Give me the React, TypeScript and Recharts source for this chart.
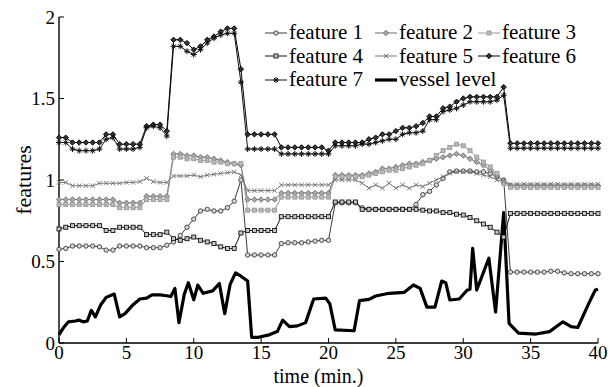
import { LineChart, Line, XAxis, YAxis, Legend } from "recharts";

// time axis (min.), one sample every half minute
const TIME = [
  0, 0.5, 1, 1.5, 2, 2.5, 3, 3.5, 4, 4.5,
  5, 5.5, 6, 6.5, 7, 7.5, 8, 8.5, 9, 9.5,
  10, 10.5, 11, 11.5, 12, 12.5, 13, 13.5, 14, 14.5,
  15, 15.5, 16, 16.5, 17, 17.5, 18, 18.5, 19, 19.5,
  20, 20.5, 21, 21.5, 22, 22.5, 23, 23.5, 24, 24.5,
  25, 25.5, 26, 26.5, 27, 27.5, 28, 28.5, 29, 29.5,
  30, 30.5, 31, 31.5, 32, 32.5, 33, 33.5, 34, 34.5,
  35, 35.5, 36, 36.5, 37, 37.5, 38, 38.5, 39, 39.5,
  40,
];

const F1 = [
  0.575, 0.58, 0.595, 0.595, 0.595, 0.595, 0.59, 0.57, 0.57, 0.595,
  0.595, 0.595, 0.595, 0.585, 0.585, 0.585, 0.6, 0.62, 0.66, 0.71,
  0.76, 0.81, 0.82, 0.81, 0.81, 0.83, 0.87, 1.0, 0.54, 0.54,
  0.54, 0.54, 0.54, 0.61, 0.615, 0.615, 0.615, 0.62, 0.625, 0.63,
  0.63, 0.86, 0.86, 0.86, 0.86, 0.83, 0.82, 0.82, 0.82, 0.82,
  0.82, 0.82, 0.82, 0.85, 0.91, 0.93, 0.97, 1.01, 1.05, 1.055,
  1.055, 1.055, 1.05, 1.05, 1.04, 1.02, 1.0, 0.435, 0.435, 0.435,
  0.435, 0.435, 0.435, 0.44, 0.44, 0.43, 0.425, 0.425, 0.425, 0.425,
  0.425,
];

const F2 = [
  0.88, 0.88, 0.88, 0.88, 0.88, 0.88, 0.88, 0.88, 0.88, 0.86,
  0.86, 0.86, 0.86, 0.9, 0.9, 0.9, 0.9, 1.16, 1.16, 1.15,
  1.15, 1.14, 1.14, 1.13, 1.12, 1.11, 1.1, 1.09, 0.88, 0.88,
  0.88, 0.88, 0.88, 0.92, 0.92, 0.92, 0.92, 0.92, 0.92, 0.92,
  0.92, 1.03, 1.03, 1.03, 1.03, 1.03, 1.04, 1.05, 1.07, 1.07,
  1.08, 1.09, 1.1, 1.1, 1.11, 1.12, 1.13, 1.14, 1.15, 1.16,
  1.15, 1.13, 1.11, 1.09, 1.06, 1.03, 0.99, 0.965, 0.965, 0.965,
  0.965, 0.965, 0.965, 0.965, 0.965, 0.965, 0.965, 0.965, 0.965, 0.965,
  0.965,
];

const F3 = [
  0.85, 0.85, 0.85, 0.85, 0.85, 0.85, 0.85, 0.85, 0.85, 0.83,
  0.83, 0.83, 0.83, 0.88, 0.88, 0.88, 0.88, 1.14, 1.14, 1.13,
  1.13, 1.12, 1.12, 1.11, 1.11, 1.1, 1.1, 1.1, 0.815, 0.815,
  0.815, 0.815, 0.815, 0.895, 0.895, 0.895, 0.895, 0.895, 0.895, 0.895,
  0.895, 1.02, 1.02, 1.02, 1.02, 1.02, 1.03, 1.04, 1.05, 1.06,
  1.06, 1.07, 1.08, 1.09, 1.1, 1.12, 1.15, 1.18, 1.2, 1.22,
  1.21, 1.18, 1.14, 1.11, 1.08, 1.04, 0.98, 0.955, 0.955, 0.955,
  0.955, 0.955, 0.955, 0.955, 0.955, 0.955, 0.955, 0.955, 0.955, 0.955,
  0.955,
];

const F4 = [
  0.7, 0.71, 0.72, 0.72, 0.72, 0.72, 0.72, 0.69, 0.69, 0.71,
  0.71, 0.71, 0.71, 0.665, 0.665, 0.665, 0.68, 0.64, 0.63, 0.64,
  0.65, 0.63, 0.62, 0.61, 0.59, 0.58, 0.58, 0.675, 0.69, 0.69,
  0.69, 0.69, 0.69, 0.775, 0.775, 0.775, 0.775, 0.775, 0.775, 0.775,
  0.775, 0.865, 0.865, 0.865, 0.865, 0.82, 0.82, 0.82, 0.82, 0.82,
  0.82, 0.82, 0.82, 0.82, 0.815, 0.81, 0.81, 0.8, 0.8, 0.79,
  0.785, 0.77, 0.75, 0.73, 0.71, 0.68, 0.65, 0.795, 0.795, 0.795,
  0.795, 0.795, 0.795, 0.795, 0.795, 0.795, 0.795, 0.795, 0.795, 0.795,
  0.795,
];

const F5 = [
  0.985, 0.985, 0.965, 0.965, 0.965, 0.965, 0.98, 0.98, 0.98, 0.98,
  0.985, 0.985, 0.99, 1.01, 0.99, 0.985, 0.985, 1.025, 1.025, 1.025,
  1.03, 1.02, 1.03, 1.035, 1.04, 1.045, 1.05, 1.03, 0.935, 0.935,
  0.935, 0.935, 0.935, 0.97, 0.97, 0.97, 0.97, 0.97, 0.97, 0.97,
  0.97, 1.0, 1.0, 1.0, 1.0, 0.98, 0.95, 0.97, 0.95, 0.98,
  0.95, 0.97, 0.95, 0.97, 0.96, 0.98, 1.0, 1.02, 1.04, 1.05,
  1.05, 1.05, 1.04, 1.03, 1.02, 1.0, 0.99, 0.975, 0.975, 0.975,
  0.975, 0.975, 0.975, 0.975, 0.975, 0.975, 0.975, 0.975, 0.975, 0.975,
  0.975,
];

const F6 = [
  1.26, 1.26, 1.23, 1.23, 1.23, 1.23, 1.23, 1.28, 1.28, 1.22,
  1.22, 1.22, 1.22, 1.33, 1.34, 1.34, 1.3, 1.86, 1.86, 1.84,
  1.8, 1.82, 1.86, 1.88, 1.91, 1.93, 1.93, 1.68, 1.28, 1.28,
  1.28, 1.28, 1.28, 1.2, 1.2, 1.2, 1.2, 1.2, 1.2, 1.2,
  1.18, 1.23, 1.23, 1.23, 1.23, 1.23, 1.25, 1.26, 1.28, 1.28,
  1.3, 1.32, 1.32, 1.33, 1.35, 1.39, 1.39, 1.44, 1.45, 1.48,
  1.5, 1.51, 1.51, 1.51, 1.51, 1.51, 1.57, 1.225, 1.225, 1.225,
  1.225, 1.225, 1.225, 1.225, 1.225, 1.225, 1.225, 1.225, 1.225, 1.225,
  1.225,
];

const F7 = [
  1.23, 1.23, 1.19, 1.18, 1.18, 1.18, 1.19, 1.25, 1.26, 1.19,
  1.19, 1.19, 1.2, 1.32, 1.33, 1.32, 1.27, 1.82, 1.82, 1.79,
  1.77, 1.8, 1.84, 1.87, 1.89, 1.9, 1.9, 1.6, 1.19, 1.19,
  1.19, 1.19, 1.19, 1.16, 1.16, 1.16, 1.16, 1.16, 1.16, 1.16,
  1.16, 1.21, 1.21, 1.21, 1.21, 1.22, 1.22, 1.23, 1.24, 1.25,
  1.25, 1.28, 1.29, 1.29, 1.3, 1.37, 1.37, 1.42, 1.43, 1.44,
  1.46, 1.48, 1.48, 1.48, 1.48, 1.49, 1.52, 1.195, 1.195, 1.195,
  1.195, 1.195, 1.195, 1.195, 1.195, 1.195, 1.195, 1.195, 1.195, 1.195,
  1.195,
];

// vessel level has its own (irregular) sample times
const VESSEL_T = [
  0, 0.3, 0.7, 1.2, 1.5, 1.8, 2.1, 2.4, 2.7, 3.1, 3.5, 4.1, 4.5, 4.9, 5.5,
  6.0, 6.5, 6.9, 7.5, 8.0, 8.3, 8.6, 8.9, 9.3, 9.6, 10.0, 10.3, 10.7, 11.4,
  11.9, 12.3, 12.7, 13.1, 13.5, 14.0, 14.3, 14.8, 15.6, 16.2, 16.6, 17.1,
  17.7, 18.3, 18.9, 19.8, 20.1, 20.5, 21.9, 22.3, 23.0, 23.5, 24.5, 25.6,
  26.3, 26.8, 27.3, 27.9, 28.4, 28.7, 29.0, 29.7, 30.3, 30.5, 30.7, 31.0,
  31.9, 32.4, 33.0, 33.4, 34.1, 35.4, 36.4, 37.4, 38.0, 38.5, 39.3, 39.8, 40,
];
const VESSEL = [
  0.05, 0.09, 0.13, 0.135, 0.14, 0.13, 0.135, 0.2, 0.16, 0.235, 0.28, 0.3, 0.16, 0.18, 0.235,
  0.27, 0.275, 0.295, 0.295, 0.29, 0.285, 0.335, 0.125, 0.3, 0.37, 0.265, 0.355, 0.305, 0.32,
  0.365, 0.18, 0.36, 0.43, 0.41, 0.38, 0.035, 0.035, 0.05, 0.07, 0.14, 0.1,
  0.105, 0.125, 0.27, 0.275, 0.24, 0.08, 0.075, 0.26, 0.268, 0.288, 0.305, 0.31,
  0.356, 0.335, 0.22, 0.22, 0.38, 0.37, 0.264, 0.27, 0.325, 0.33, 0.58, 0.325,
  0.52, 0.19, 0.8, 0.12, 0.06, 0.055, 0.07, 0.13, 0.1, 0.095, 0.24, 0.325, 0.33,
];

const X_TICKS = [0, 5, 10, 15, 20, 25, 30, 35, 40];
const Y_TICKS = [0, 0.5, 1, 1.5, 2];
const NAMES = ["feature 1", "feature 2", "feature 3", "feature 4", "feature 5", "feature 6", "feature 7", "vessel level"];

const FONT = "Liberation Serif, Tinos, DejaVu Serif, serif";

const rows = TIME.map((t, i) => ({
  t,
  f1: F1[i],
  f2: F2[i],
  f3: F3[i],
  f4: F4[i],
  f5: F5[i],
  f6: F6[i],
  f7: F7[i],
}));
const vessel = VESSEL_T.map((t, i) => ({ t, v: VESSEL[i] }));

type Shape = "circle" | "diamond" | "square" | "x" | "star";

const SERIES: { key: string; name: string; color: string; fill: string; shape: Shape }[] = [
  { key: "f1", name: NAMES[0], color: "#3c3c3c", fill: "#d8d8d8", shape: "circle" },
  { key: "f2", name: NAMES[1], color: "#707070", fill: "#a8a8a8", shape: "diamond" },
  { key: "f3", name: NAMES[2], color: "#9a9a9a", fill: "#b8b8b8", shape: "square" },
  { key: "f4", name: NAMES[3], color: "#141414", fill: "#c8c8c8", shape: "square" },
  { key: "f5", name: NAMES[4], color: "#7a7a7a", fill: "none", shape: "x" },
  { key: "f6", name: NAMES[5], color: "#000000", fill: "#333", shape: "diamond" },
  { key: "f7", name: NAMES[6], color: "#111111", fill: "none", shape: "star" },
];

function mark(shape: Shape, x: number, y: number, color: string, fill: string, key?: string) {
  const r = 2.2;
  switch (shape) {
    case "circle":
      return <circle key={key} cx={x} cy={y} r={r} fill={fill} stroke={color} strokeWidth={0.9} />;
    case "diamond":
      return (
        <path
          key={key}
          d={`M${x},${y - 2.7}L${x + 2.7},${y}L${x},${y + 2.7}L${x - 2.7},${y}Z`}
          fill={fill}
          stroke={color}
          strokeWidth={0.9}
        />
      );
    case "square":
      return (
        <rect key={key} x={x - 2} y={y - 2} width={4} height={4} fill={fill} stroke={color} strokeWidth={0.9} />
      );
    case "x":
      return (
        <path
          key={key}
          d={`M${x - r},${y - r}L${x + r},${y + r}M${x - r},${y + r}L${x + r},${y - r}`}
          stroke={color}
          strokeWidth={1}
        />
      );
    default:
      return (
        <path
          key={key}
          d={`M${x - 3},${y}L${x + 3},${y}M${x},${y - 3}L${x},${y + 3}M${x - 2},${y - 2}L${x + 2},${y + 2}M${x - 2},${y + 2}L${x + 2},${y - 2}`}
          stroke={color}
          strokeWidth={1}
        />
      );
  }
}

function LegendBox() {
  const item = { display: "flex", alignItems: "center" } as const;
  const sample = { marginRight: 2, flexShrink: 0 } as const;
  return (
    <div
      style={{
        display: "grid",
        gridTemplateColumns: "110px 103px 100px",
        fontFamily: FONT,
        fontSize: 21,
        lineHeight: "23.5px",
        color: "#000",
        whiteSpace: "nowrap",
      }}
    >
      {SERIES.map((s) => (
        <div key={s.key} style={item}>
          <svg width={22} height={12} style={sample}>
            <line x1={0} y1={6} x2={22} y2={6} stroke={s.color} strokeWidth={1} />
            {mark(s.shape, 11, 6, s.color, s.fill)}
          </svg>
          <span>{s.name}</span>
        </div>
      ))}
      <div style={item}>
        <svg width={22} height={12} style={sample}>
          <line x1={0} y1={6} x2={22} y2={6} stroke="#000" strokeWidth={3.2} />
        </svg>
        <span>{NAMES[7]}</span>
      </div>
    </div>
  );
}

const TICK = { fill: "#000", fontSize: 19, fontFamily: FONT };

export default function App() {
  return (
    <div style={{ position: "absolute", left: 0, top: 0, background: "#fff", fontFamily: FONT }}>
      <LineChart width={612} height={387} data={rows} margin={{ top: 17, right: 14, bottom: 0, left: 0 }}>
        <XAxis
          dataKey="t"
          type="number"
          domain={[0, 40]}
          ticks={X_TICKS}
          height={44}
          tickSize={-5}
          tickMargin={8}
          tick={TICK}
          axisLine={{ stroke: "#000", strokeWidth: 1.4 }}
          tickLine={{ stroke: "#000" }}
          label={{ value: "time (min.)", position: "insideBottom", offset: 4.5, fontSize: 20, fill: "#000", dx: -10, fontFamily: FONT }}
        />
        <XAxis
          xAxisId="top"
          orientation="top"
          type="number"
          domain={[0, 40]}
          ticks={X_TICKS}
          height={0}
          tickSize={-5}
          tick={false}
          axisLine={{ stroke: "#000", strokeWidth: 1.4 }}
          tickLine={{ stroke: "#000" }}
        />
        <YAxis
          type="number"
          domain={[0, 2]}
          ticks={Y_TICKS}
          width={59}
          tickSize={-5}
          tickMargin={9}
          tick={TICK}
          axisLine={{ stroke: "#000", strokeWidth: 1.4 }}
          tickLine={{ stroke: "#000" }}
          label={{
            value: "features",
            angle: -90,
            position: "insideLeft",
            offset: 23,
            fontSize: 22,
            fill: "#000",
            fontFamily: FONT,
            style: { textAnchor: "middle" },
          }}
        />
        <YAxis
          yAxisId="right"
          orientation="right"
          type="number"
          domain={[0, 2]}
          ticks={Y_TICKS}
          width={0}
          tickSize={-5}
          tick={false}
          axisLine={{ stroke: "#000", strokeWidth: 1.4 }}
          tickLine={{ stroke: "#000" }}
        />
        {SERIES.map((s) => (
          <Line
            key={s.key}
            dataKey={s.key}
            name={s.name}
            type="linear"
            stroke={s.color}
            strokeWidth={1}
            isAnimationActive={false}
            dot={(p: any) => mark(s.shape, p.cx, p.cy, s.color, s.fill, `${s.key}-${p.index}`)}
          />
        ))}
        <Line
          data={vessel}
          dataKey="v"
          name={NAMES[7]}
          type="linear"
          stroke="#000"
          strokeWidth={3.2}
          strokeLinejoin="round"
          dot={false}
          isAnimationActive={false}
        />
        <Legend
          layout="horizontal"
          verticalAlign="middle"
          align="center"
          content={() => <LegendBox />}
          wrapperStyle={{ left: 265, top: 21, width: "auto" }}
        />
      </LineChart>
    </div>
  );
}
